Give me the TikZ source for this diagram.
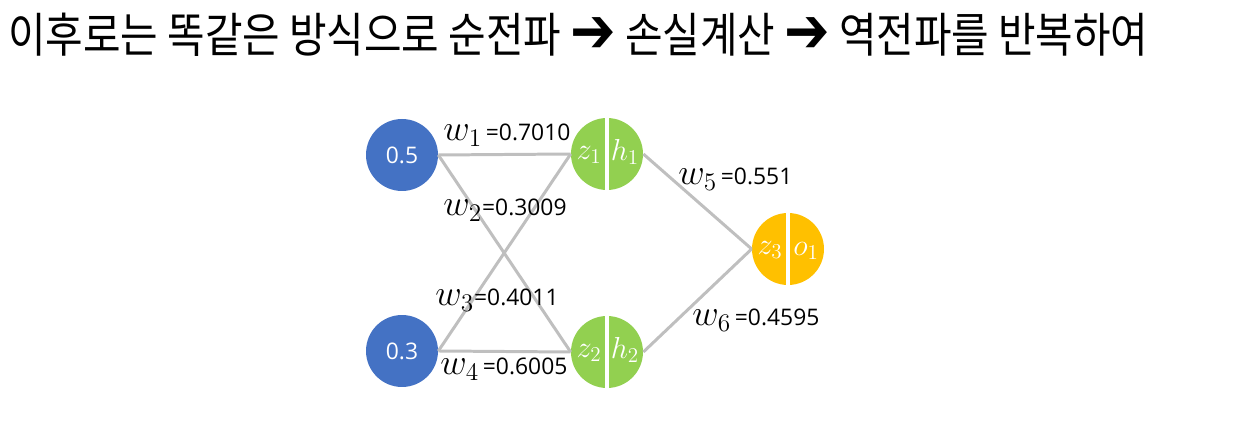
\documentclass[tikz,border=0pt]{standalone}
\usepackage{fontspec}
\setmainfont{Open Sans}
\newfontfamily\krfont{Noto Sans CJK KR}
\newfontfamily\symfont{DejaVu Sans}
\usetikzlibrary{positioning}
\definecolor{inblue}{HTML}{4472C4}
\definecolor{hidgreen}{HTML}{92D050}
\definecolor{outgold}{HTML}{FFC000}
\definecolor{edgegray}{HTML}{BFBFBF}

\begin{document}
\begin{tikzpicture}[
    x=0.02cm, y=-0.02cm,
    neuron/.style={circle, minimum size=1.44cm, inner sep=0pt, text=white, font=\fontsize{13}{15}\selectfont},
    divider/.style={white, line width=2.2pt},
    part/.style={text=white, inner sep=0pt, font=\fontsize{18}{20}\selectfont},
    edge/.style={edgegray, line width=1.7pt},
    weight/.style={anchor=west, inner sep=0pt, font=\fontsize{13}{15}\selectfont},
    title/.style={anchor=west, inner sep=0pt, font=\krfont\fontsize{27}{30}\selectfont, xscale=0.86, transform shape},
]
    \useasboundingbox (0,0) rectangle (1238,448);

    % Title
    \node[title] (head) at (8,35) {이후로는 똑같은 방식으로 순전파 {\symfont\fontsize{36}{30}\selectfont ➔} 손실계산 {\symfont\fontsize{36}{30}\selectfont ➔} 역전파를 반복하여};

    % Nodes
    \node[neuron, fill=inblue] (in1) at (402,155) {0.5};
    \node[neuron, fill=inblue] (in2) at (402,351) {0.3};
    \node[neuron, fill=hidgreen] (h1) at (607,154) {};
    \node[neuron, fill=hidgreen] (h2) at (607,352) {};
    \node[neuron, fill=outgold] (out) at (788,249) {};

    % Split lines
    \draw[divider] (h1.north) -- (h1.south);
    \draw[divider] (h2.north) -- (h2.south);
    \draw[divider] (out.north) -- (out.south);

    % Node parts
    \node[part] (h1z) at (589,155) {$z_1$};
    \node[part] (h1h) at (625,152) {$h_1$};
    \node[part] (h2z) at (589,353) {$z_2$};
    \node[part] (h2h) at (625,350) {$h_2$};
    \node[part] (outz) at (770,250) {$z_3$};
    \node[part] (outo) at (806,251) {$o_1$};

    % Edges
    \draw[edge] (in1.east) -- (h1.west);
    \draw[edge] (in1.east) -- (h2.west);
    \draw[edge] (in2.east) -- (h1.west);
    \draw[edge] (in2.east) -- (h2.west);
    \draw[edge] (h1.east) -- (out.west);
    \draw[edge] (h2.east) -- (out.west);

    % Weights
    \node[weight] (lw1) at (443,135) {{\fontsize{20}{20}\selectfont$w_1$}\,=0.7010};
    \node[weight] (lw2) at (443,210) {{\fontsize{20}{20}\selectfont$w_2$}=0.3009};
    \node[weight] (lw3) at (435,300) {{\fontsize{20}{20}\selectfont$w_3$}=0.4011};
    \node[weight] (lw4) at (440,369) {{\fontsize{20}{20}\selectfont$w_4$}\,=0.6005};
    \node[weight] (lw5) at (678,179) {{\fontsize{20}{20}\selectfont$w_5$}\,=0.551};
    \node[weight] (lw6) at (692,320) {{\fontsize{20}{20}\selectfont$w_6$}\,=0.4595};
\end{tikzpicture}
\end{document}
